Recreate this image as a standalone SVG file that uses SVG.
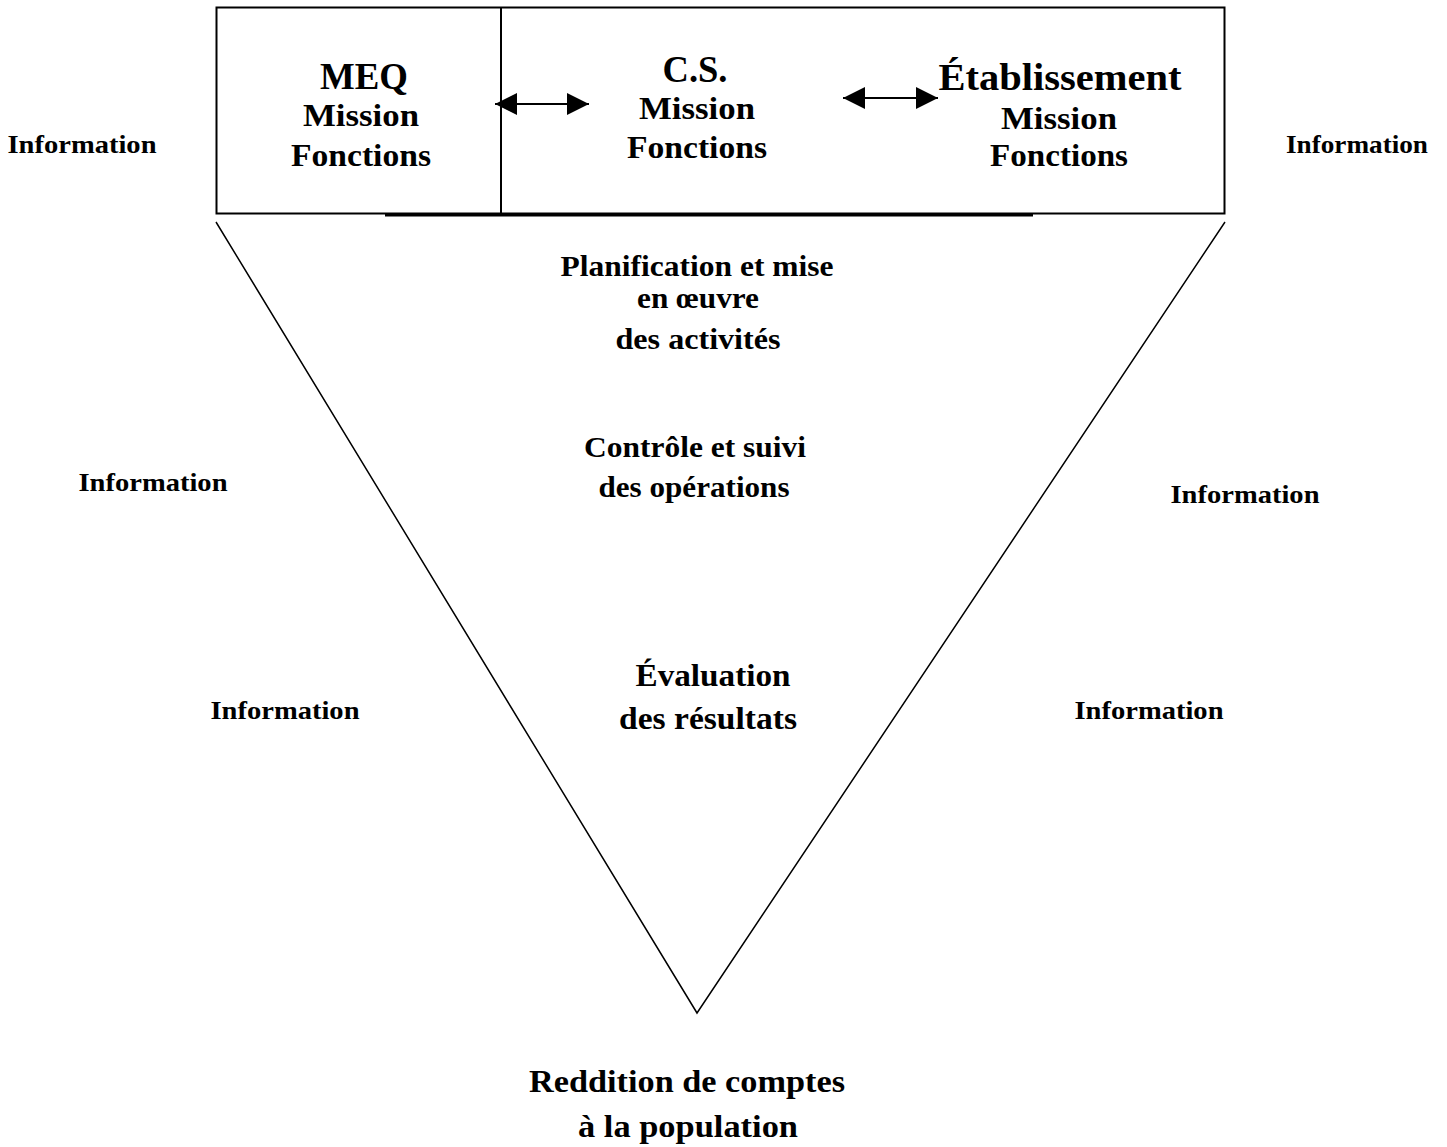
<svg xmlns="http://www.w3.org/2000/svg" width="1447" height="1147" viewBox="0 0 1447 1147">
<defs>
<style>
.t{font-family:"Liberation Serif","Times New Roman",serif;font-weight:bold;fill:#000;text-anchor:middle}
.big{font-size:37px}
.mid{font-size:31px}
.sm{font-size:29px}
.info{font-size:26px}
.ln{stroke:#000;stroke-width:1.5;fill:none}
</style>
<marker id="ah" viewBox="0 0 22 22" refX="22" refY="11" markerWidth="22" markerHeight="22" orient="auto-start-reverse" markerUnits="userSpaceOnUse">
<path d="M0,0 L22,11 L0,22 z" fill="#000"/>
</marker>
</defs>
<rect width="1447" height="1147" fill="#fff"/>
<g id="header-box">
<rect x="216.5" y="7.5" width="1008" height="206" fill="none" stroke="#000" stroke-width="2"/>
<line x1="501" y1="7" x2="501" y2="214" stroke="#000" stroke-width="2"/>
<line x1="385" y1="215" x2="1033" y2="215" stroke="#000" stroke-width="3"/>
</g>
<g id="node-meq">
<text class="t big" x="364" y="89" textLength="88" lengthAdjust="spacingAndGlyphs">MEQ</text>
<text class="t mid" x="361" y="126" textLength="116" lengthAdjust="spacingAndGlyphs">Mission</text>
<text class="t mid" x="361" y="166" textLength="140" lengthAdjust="spacingAndGlyphs">Fonctions</text>
</g>
<g id="node-cs">
<text class="t big" x="695" y="82" textLength="65" lengthAdjust="spacingAndGlyphs">C.S.</text>
<text class="t mid" x="697" y="119" textLength="116" lengthAdjust="spacingAndGlyphs">Mission</text>
<text class="t mid" x="697" y="158" textLength="140" lengthAdjust="spacingAndGlyphs">Fonctions</text>
</g>
<g id="node-etab">
<text class="t big" x="1060" y="90" textLength="243" lengthAdjust="spacingAndGlyphs">Établissement</text>
<text class="t mid" x="1059" y="129" textLength="116" lengthAdjust="spacingAndGlyphs">Mission</text>
<text class="t mid" x="1059" y="166" textLength="138" lengthAdjust="spacingAndGlyphs">Fonctions</text>
</g>
<g id="triangle">
<polyline class="ln" points="216,222 697,1013 1225,222"/>
</g>
<g id="connectors">
<line x1="495" y1="104" x2="589" y2="104" stroke="#000" stroke-width="2" marker-start="url(#ah)" marker-end="url(#ah)"/>
<line x1="843" y1="98" x2="938" y2="98" stroke="#000" stroke-width="2" marker-start="url(#ah)" marker-end="url(#ah)"/>
</g>
<g id="labels-info">
<text class="t info" x="82" y="153" textLength="149" lengthAdjust="spacingAndGlyphs">Information</text>
<text class="t info" x="1357" y="153" textLength="142" lengthAdjust="spacingAndGlyphs">Information</text>
<text class="t info" x="153" y="491" textLength="149" lengthAdjust="spacingAndGlyphs">Information</text>
<text class="t info" x="1245" y="503" textLength="149" lengthAdjust="spacingAndGlyphs">Information</text>
<text class="t info" x="285" y="719" textLength="149" lengthAdjust="spacingAndGlyphs">Information</text>
<text class="t info" x="1149" y="719" textLength="149" lengthAdjust="spacingAndGlyphs">Information</text>
</g>
<g id="node-planification">
<text class="t sm" x="697" y="276" textLength="273" lengthAdjust="spacingAndGlyphs">Planification et mise</text>
<text class="t sm" x="698" y="308" textLength="122" lengthAdjust="spacingAndGlyphs">en œuvre</text>
<text class="t sm" x="698" y="349" textLength="165" lengthAdjust="spacingAndGlyphs">des activités</text>
</g>
<g id="node-controle">
<text class="t sm" x="695" y="457" textLength="222" lengthAdjust="spacingAndGlyphs">Contrôle et suivi</text>
<text class="t sm" x="694" y="497" textLength="191" lengthAdjust="spacingAndGlyphs">des opérations</text>
</g>
<g id="node-evaluation">
<text class="t mid" x="713" y="686" textLength="155" lengthAdjust="spacingAndGlyphs">Évaluation</text>
<text class="t mid" x="708" y="729" textLength="178" lengthAdjust="spacingAndGlyphs">des résultats</text>
</g>
<g id="node-reddition">
<text class="t mid" x="687" y="1092" textLength="316" lengthAdjust="spacingAndGlyphs">Reddition de comptes</text>
<text class="t mid" x="688" y="1137" textLength="220" lengthAdjust="spacingAndGlyphs">à la population</text>
</g>
</svg>
